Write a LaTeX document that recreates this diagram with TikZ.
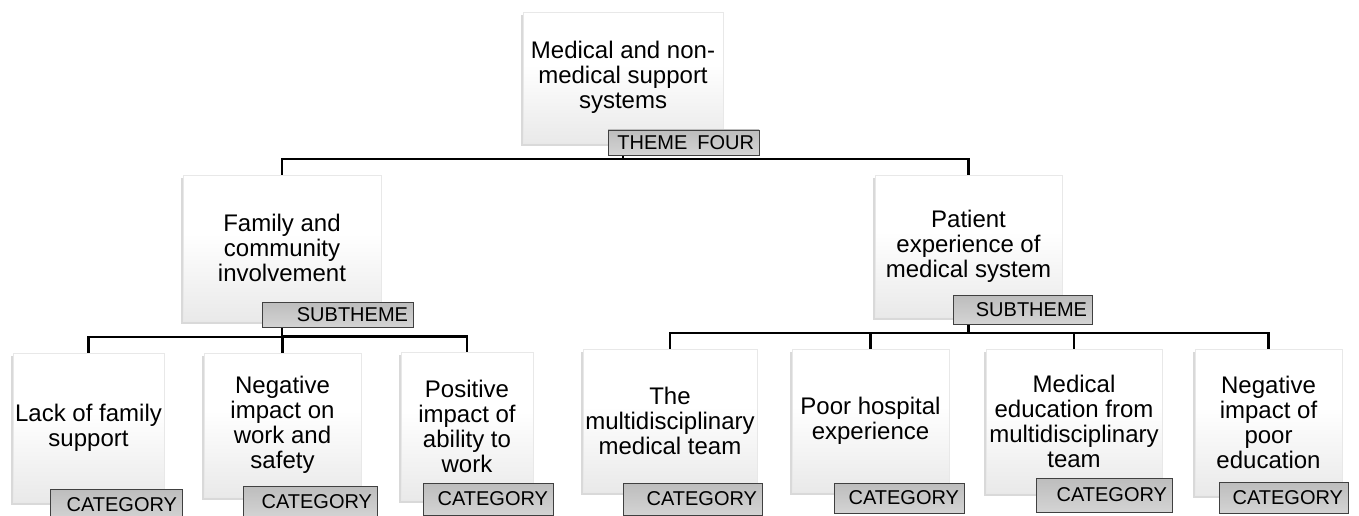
\documentclass[tikz,border=0pt]{standalone}
\usepackage{fontspec}
\setmainfont{Liberation Sans}
\usetikzlibrary{shadows,calc}
\pgfdeclarelayer{background}
\pgfsetlayers{background,main}

\pgfdeclareverticalshading{boxfade}{100bp}{color(0bp)=(black!10); color(20bp)=(black!10); color(55bp)=(white); color(100bp)=(white)}

\tikzset{
	topic/.style={rectangle, inner sep=0pt, align=center, shading=boxfade,
		draw=black!9, line width=.6pt,
		drop shadow={shadow xshift=-2pt, shadow yshift=-3pt, fill=black, opacity=.15},
		font=\fontsize{24}{25}\selectfont},
	tag/.style={rectangle, draw=black!75, line width=.9pt, inner xsep=5pt, inner ysep=0pt,
		top color=black!26, bottom color=black!17, align=right,
		font=\fontsize{20}{22}\selectfont},
	link/.style={line width=2.2pt,
		to path={(\tikztostart.south) |- ($(\tikztostart.south)!.5!(\tikztotarget.north)$) -| (\tikztotarget.north)}}
}

\begin{document}
\begin{tikzpicture}[x=1pt,y=-1pt]
	\useasboundingbox (0,0) rectangle (1359,516);

	% theme
	\node[topic, minimum width=200pt, minimum height=131pt] (thm) at (623,77.5)
		{Medical and non-\\medical support\\systems};
	\node[tag, text width=141pt, minimum height=25pt] (thmtag) at (683.5,142.5) {THEME\enspace FOUR};

	% subthemes
	\node[topic, minimum width=198pt, minimum height=146pt] (fam) at (282,248)
		{Family and\\community\\involvement};
	\node[tag, text width=141pt, minimum height=25pt] (famtag) at (337.5,314.5) {SUBTHEME};
	\node[topic, minimum width=187pt, minimum height=142pt] (pat) at (968.5,246)
		{Patient\\experience of\\medical system};
	\node[tag, text width=129pt, minimum height=29pt] (pattag) at (1022.5,309.5) {SUBTHEME};

	% categories
	\node[topic, minimum width=151pt, minimum height=149pt] (lack) at (88.5,427.5)
		{Lack of family\\support};
	\node[tag, text width=122pt, minimum height=31pt] (lacktag) at (116,504.5) {CATEGORY};
	\node[topic, minimum width=157pt, minimum height=144pt] (neg) at (282.5,425)
		{Negative\\impact on\\work and\\safety};
	\node[tag, text width=124pt, minimum height=31pt] (negtag) at (310,501.5) {CATEGORY};
	\node[topic, minimum width=132pt, minimum height=148pt] (posi) at (467,426)
		{Positive\\impact of\\ability to\\work};
	\node[tag, text width=120pt, minimum height=32pt] (positag) at (488,499) {CATEGORY};

	\node[topic, minimum width=174pt, minimum height=143pt] (team) at (670,420.5)
		{The\\multidisciplinary\\medical team};
	\node[tag, text width=129pt, minimum height=32pt] (teamtag) at (692.5,499) {CATEGORY};
	\node[topic, minimum width=157pt, minimum height=143pt] (hosp) at (870.5,420.5)
		{Poor hospital\\experience};
	\node[tag, text width=120pt, minimum height=30pt] (hosptag) at (899,498) {CATEGORY};
	\node[topic, minimum width=176pt, minimum height=144pt] (edu) at (1074,421)
		{Medical\\education from\\multidisciplinary\\team};
	\node[tag, text width=126pt, minimum height=34pt] (edutag) at (1104,495) {CATEGORY};
	\node[topic, minimum width=147pt, minimum height=146pt] (poor) at (1268.5,422)
		{Negative\\impact of\\poor\\education};
	\node[tag, text width=119pt, minimum height=31pt] (poortag) at (1283.5,497.5) {CATEGORY};

\begin{pgfonlayer}{background}
	\fill[white] (0,0) rectangle (1359,516);
	\draw[link] (thm) edge (fam)
	                  edge (pat)
	            (fam) edge (lack)
	                  edge (neg)
	                  edge (posi)
	            (pat) edge (team)
	                  edge (hosp)
	                  edge (edu)
	                  edge (poor);
\end{pgfonlayer}

\end{tikzpicture}
\end{document}
